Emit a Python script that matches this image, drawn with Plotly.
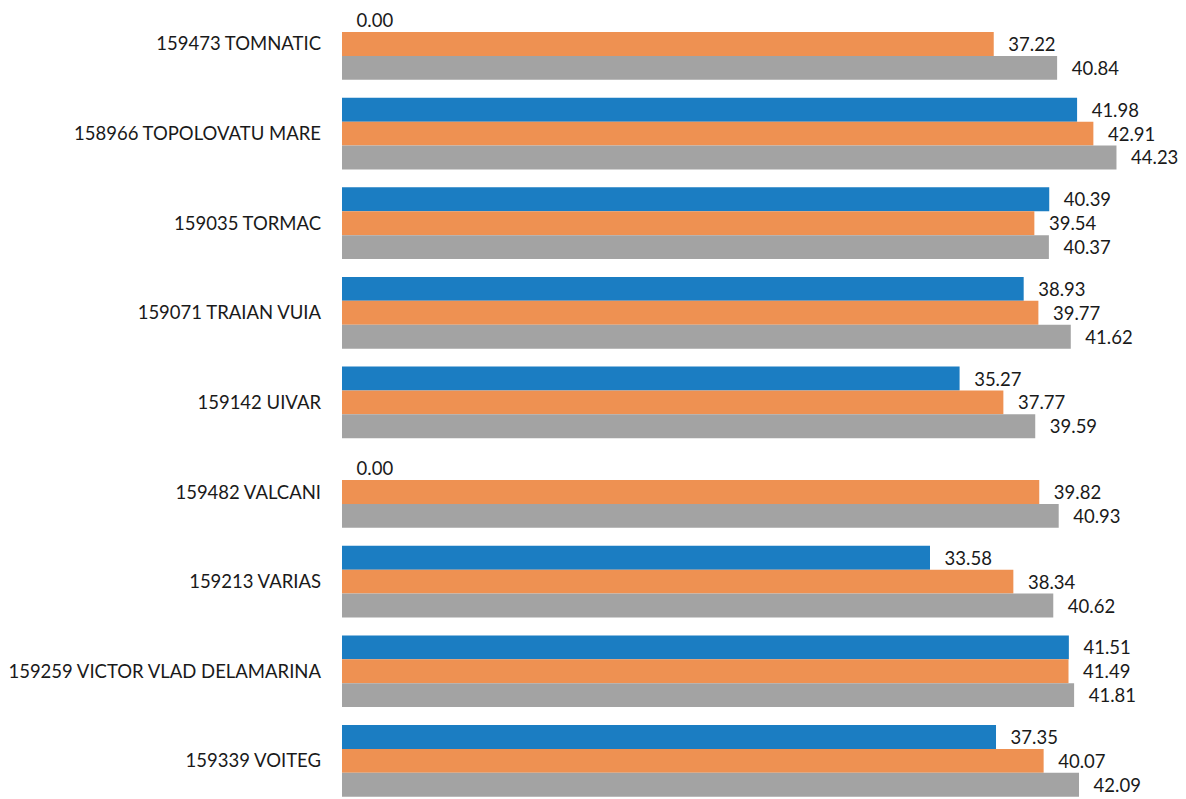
import plotly.graph_objects as go

# Localities, top to bottom
categories = [
    "159473 TOMNATIC",
    "158966 TOPOLOVATU MARE",
    "159035 TORMAC",
    "159071 TRAIAN VUIA",
    "159142 UIVAR",
    "159482 VALCANI",
    "159213 VARIAS",
    "159259 VICTOR VLAD DELAMARINA",
    "159339 VOITEG",
]

# Three series per locality (blue, orange, gray)
series_blue = [0.00, 41.98, 40.39, 38.93, 35.27, 0.00, 33.58, 41.51, 37.35]
series_orange = [37.22, 42.91, 39.54, 39.77, 37.77, 39.82, 38.34, 41.49, 40.07]
series_gray = [40.84, 44.23, 40.37, 41.62, 39.59, 40.93, 40.62, 41.81, 42.09]

colors = ["#1b7dc2", "#ee9152", "#a3a3a3"]
FONT = "Lato"

fig = go.Figure()
for vals, col in zip([series_blue, series_orange, series_gray], colors):
    fig.add_trace(go.Bar(
        y=categories,
        x=vals,
        orientation="h",
        marker=dict(color=col, line=dict(width=0)),
        texttemplate="\u2002\u2009%{x:.2f}",
        textposition="outside",
        textfont=dict(family=FONT, size=18.5, color="#1a1a1a"),
        cliponaxis=False,
        showlegend=False,
    ))

n = len(categories)
fig.update_layout(
    width=1186,
    height=799,
    margin=dict(l=342, r=0, t=0, b=0),
    paper_bgcolor="white",
    plot_bgcolor="white",
    barmode="group",
    bargap=0.2,
    bargroupgap=0,
    xaxis=dict(range=[0, 48.2], visible=False, showgrid=False, zeroline=False),
    yaxis=dict(
        type="category",
        range=[8.426, -0.491],
        showgrid=False,
        zeroline=False,
        showline=False,
        ticks="",
        ticklabelstandoff=20,
        tickfont=dict(family=FONT, size=18.5, color="#1a1a1a"),
    ),
)

fig.write_html("out.html")
